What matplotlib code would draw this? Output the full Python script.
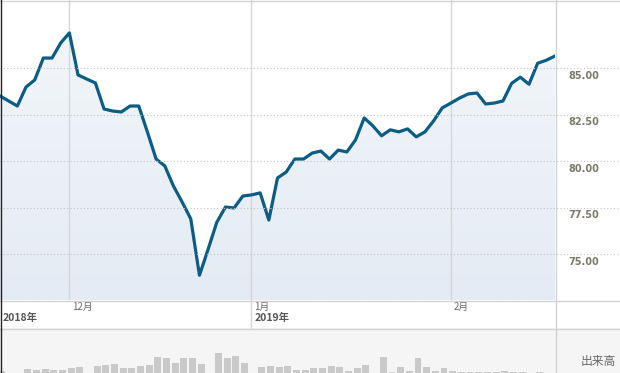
import matplotlib
matplotlib.use("Agg")
import matplotlib.pyplot as plt
import matplotlib.transforms as mtransforms
from matplotlib.colors import LinearSegmentedColormap
from matplotlib.lines import Line2D
from matplotlib.patches import Rectangle
import numpy as np

plt.rcParams['font.family'] = ['Noto Sans CJK JP', 'DejaVu Sans']

#precio de cierre por sesion (nov 2018 - feb 2019)
precios = [83.51, 83.24, 82.97, 83.99, 84.37, 85.55, 85.55, 86.36, 86.90, 84.64,
           84.42, 84.21, 82.81, 82.70, 82.65, 82.97, 82.97, 81.57, 80.12, 79.75,
           78.67, 77.81, 76.90, 73.87, 75.27, 76.72, 77.54, 77.49, 78.13, 78.19,
           78.30, 76.84, 79.10, 79.42, 80.12, 80.12, 80.44, 80.55, 80.12, 80.60,
           80.50, 81.15, 82.33, 81.90, 81.37, 81.69, 81.58, 81.74, 81.31, 81.58,
           82.17, 82.87, 83.13, 83.40, 83.62, 83.67, 83.08, 83.13, 83.24, 84.19,
           84.52, 84.14, 85.27, 85.43, 85.66]

#volumen (出来高) por sesion, unidades arbitrarias
volumen = [32, 27, 28, 34, 33, 34, 33, 33, 35, 36,
           29, 37, 38, 39, 35, 35, 37, 38, 46, 45,
           40, 45, 45, 39, 29, 50, 45, 47, 40, 28,
           36, 37, 36, 37, 33, 33, 35, 35, 37, 36,
           32, 35, 38, 29, 46, 31, 36, 32, 45, 36,
           32, 35, 32, 31, 31, 31, 31, 31, 32, 31,
           31, 29, 31, 29, 29]

#inicio de cada mes (indice de sesion) y etiquetas
meses_pos = [8, 29, 52]
meses_txt = ["12月", "1月", "2月"]
anios_pos = [0, 29]
anios_txt = ["2018年", "2019年"]

niveles_y = [75.0, 77.5, 80.0, 82.5, 85.0]

W, H = 620, 373
fig = plt.figure(figsize=(W / 100, H / 100), dpi=100)
fig.patch.set_facecolor("white")

#banda de volumen (fondo gris claro a todo lo ancho)
fig.patches.append(Rectangle((0, 0), 1, 45 / H, transform=fig.transFigure,
                             facecolor="#f5f5f5", edgecolor="none", zorder=-5))

#grafica principal
ax = fig.add_axes([0, (H - 300) / H, 555 / W, 300 / H])
ax.set_facecolor("white")
x = np.arange(len(precios))
ax.set_xlim(0, len(precios) - 1)
ax.set_ylim(72.54, 88.67)
for s in ax.spines.values():
    s.set_visible(False)
ax.set_xticks([])
ax.set_yticks([])

#relleno con degradado
poly = ax.fill_between(x, precios, 72.54, facecolor="none", edgecolor="none")
cmap = LinearSegmentedColormap.from_list("fondo", ["#e4ebf4", "#f4f7fa"])
grad = np.linspace(0, 1, 256).reshape(-1, 1)
im = ax.imshow(grad, extent=[0, len(precios) - 1, 72.54, 88.67], aspect="auto",
               cmap=cmap, origin="lower", zorder=1)
im.set_clip_path(poly.get_paths()[0], transform=ax.transData)

ax.plot(x, precios, color="#0b5d86", lw=2.3, zorder=4, solid_joinstyle="round")

#lineas verticales de cada mes
for p in meses_pos:
    ax.axvline(p, color="#d6d6d6", lw=1, zorder=2)

#rejilla horizontal punteada (llega hasta el borde derecho)
trans = mtransforms.blended_transform_factory(fig.transFigure, ax.transData)
for v in niveles_y:
    fig.lines.append(Line2D([0, 1], [v, v], transform=trans, color="#c4c4c4",
                            lw=0.8, linestyle=(0, (1, 2)), zorder=3))
    off = mtransforms.offset_copy(trans, fig=fig, x=0, y=-2.5, units="dots")
    fig.text(568 / W, v, f"{v:.2f}", transform=off, ha="left", va="top",
             fontsize=7, fontweight="bold", color="#7b7a68", family="DejaVu Sans")

#volumen
axv = fig.add_axes([0, 0, 555 / W, 45 / H])
axv.patch.set_alpha(0)
axv.bar(x, volumen, width=0.8, color="#c9c9c9", zorder=2)
axv.set_xlim(-0.2, len(precios) - 1.2)
axv.set_ylim(30, 75)
for s in axv.spines.values():
    s.set_visible(False)
axv.set_xticks([])
axv.set_yticks([])

#bordes
def linea_px(x0, y0, x1, y1, color="#d2d2d2", lw=1):
    fig.lines.append(Line2D([x0 / W, x1 / W], [1 - y0 / H, 1 - y1 / H],
                            transform=fig.transFigure, color=color, lw=lw, zorder=5))

linea_px(0, 0.5, W, 0.5)
linea_px(0, 300.5, W, 300.5)
linea_px(0, 328.5, W, 328.5)
linea_px(555.5, 0, 555.5, H)
#linea del anio atraviesa la banda de fechas
xa = 29 / (len(precios) - 1) * 555
linea_px(xa, 300, xa, 328, color="#d6d6d6")
linea_px(0.5, 0, 0.5, H, color="#222222", lw=1)

#etiquetas de meses y anios
for p, t in zip(meses_pos, meses_txt):
    xp = p / (len(precios) - 1) * 555 + 3
    fig.text(xp / W, 1 - 302 / H, t, ha="left", va="top", fontsize=7, color="#666666")
for p, t in zip(anios_pos, anios_txt):
    xp = p / (len(precios) - 1) * 555 + 3
    fig.text(xp / W, 1 - 318 / H, t, ha="left", va="center", fontsize=7.5,
             fontweight="bold", color="#555555")

fig.text(581 / W, 1 - 362 / H, "出来高", ha="left", va="center", fontsize=8.5,
         color="#666666")

fig.savefig("out.png", dpi=100)
